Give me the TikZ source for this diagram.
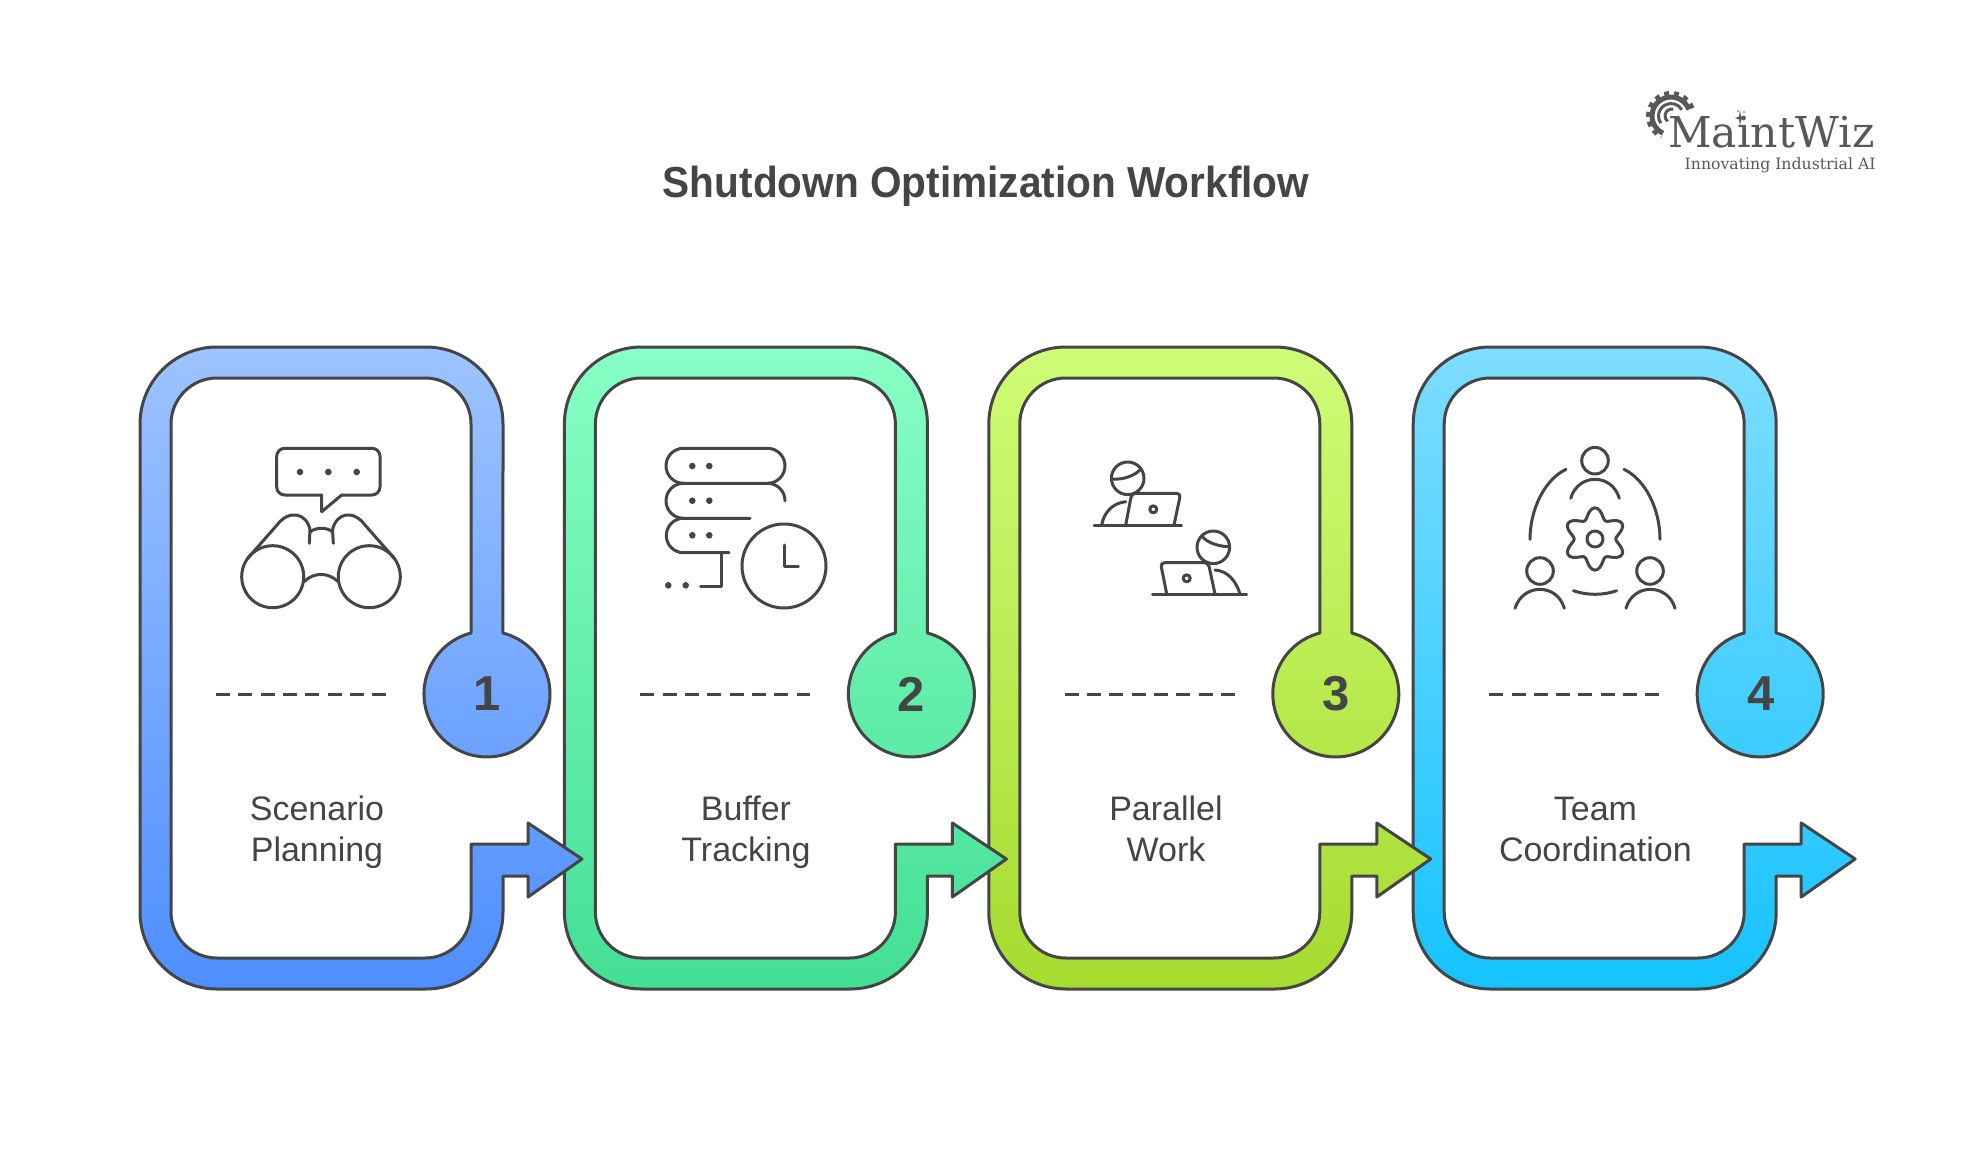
\documentclass[tikz,border=0pt]{standalone}
\usepackage{fontspec}
\setmainfont{Liberation Sans}
\newfontfamily\logofont{DejaVu Serif}
\newfontfamily\titlefont[FakeStretch=0.935]{Liberation Sans}
\definecolor{ink}{HTML}{454545}
\definecolor{logoink}{HTML}{585858}
\definecolor{blueA}{HTML}{9EC4FF}\definecolor{blueB}{HTML}{4E8EFF}
\definecolor{greenA}{HTML}{88FFC6}\definecolor{greenB}{HTML}{43DF95}
\definecolor{limeA}{HTML}{CFFC76}\definecolor{limeB}{HTML}{A6DB2F}
\definecolor{cyanA}{HTML}{7EDDFF}\definecolor{cyanB}{HTML}{15C3FF}
\tikzset{
  ribbon/.style={draw=ink,line width=3pt,line join=round},
  iconline/.style={draw=ink,line width=3pt,line cap=round,line join=round},
  icondot/.style={fill=ink,draw=none},
  divider/.style={draw=ink,line width=3pt,dash pattern=on 14pt off 8.3pt},
  label/.style={text=ink,anchor=base,inner sep=0pt,font=\fontsize{34}{34}\selectfont},
  numeral/.style={text=ink,anchor=center,inner sep=0pt,font=\fontsize{49}{49}\selectfont\bfseries},
  titletext/.style={text=ink,anchor=base,inner sep=0pt,font=\fontsize{43.4}{43.4}\selectfont\titlefont\bfseries},
  logomain/.style={text=logoink,anchor=base west,inner sep=0pt,font=\fontsize{42.6}{42.6}\selectfont\logofont},
  logotag/.style={text=logoink,anchor=base west,inner sep=0pt,font=\fontsize{15.7}{15.7}\selectfont\logofont},
}
\newcommand{\ribbonpath}[3]{%
  \begin{scope}[xshift=#1*424.4pt]
  \path[ribbon,top color=#2,bottom color=#3]
    (582,859) -- (528,823) -- (528,844) -- (471,844) -- (471,912)
    arc[start angle=0,end angle=90,radius=46] -- (217,958)
    arc[start angle=90,end angle=180,radius=46] -- (171,424)
    arc[start angle=180,end angle=270,radius=46] -- (425,378)
    arc[start angle=270,end angle=360,radius=46] -- (471,633)
    arc[start angle=255.3,end angle=-75.3,radius=63] -- (503,424)
    arc[start angle=0,end angle=-90,radius=77] -- (217,347)
    arc[start angle=-90,end angle=-180,radius=77] -- (140,912)
    arc[start angle=180,end angle=90,radius=77] -- (426,989)
    arc[start angle=90,end angle=0,radius=77] -- (503,876) -- (528,876) -- (528,897) -- cycle;
  \draw[divider] (216,694) -- (386,694);
  \end{scope}}
\begin{document}
\begin{tikzpicture}[x=1pt,y=1pt,yscale=-1]
\useasboundingbox (0,0) rectangle (1970,1166);
\fill[white] (0,0) rectangle (1970,1166);
% ribbons, right to left so each arrow lies over the next ribbon
\ribbonpath{3}{cyanA}{cyanB}
\ribbonpath{2}{limeA}{limeB}
\ribbonpath{1}{greenA}{greenB}
\ribbonpath{0}{blueA}{blueB}
% numerals
\node[numeral] (n1) at (487,694) {1};
\node[numeral] (n2) at (911.4,694) {2};
\node[numeral] (n3) at (1335.8,694) {3};
\node[numeral] (n4) at (1761,694) {4};
% labels
\node[label] (l1a) at (317,820) {Scenario};
\node[label] (l1b) at (317,861) {Planning};
\node[label] (l2a) at (746,820) {Buffer};
\node[label] (l2b) at (746,861) {Tracking};
\node[label] (l3a) at (1166,820) {Parallel};
\node[label] (l3b) at (1166,861) {Work};
\node[label] (l4a) at (1595.4,820) {Team};
\node[label] (l4b) at (1595.4,861) {Coordination};
% title
\node[titletext] (title) at (986,198) {Shutdown Optimization Workflow};
% icon 1: binoculars and speech bubble
\draw[iconline,rounded corners=8pt] (321.7,495) -- (276.7,495) -- (276.7,448.3) -- (380,448.3) -- (380,495) -- (341.7,495);
\draw[iconline] (341.7,495) -- (321.7,511.7) -- (321.7,495);
\foreach \x in {300,328.3,356.7}{\fill[icondot] (\x,472) circle[radius=3.3];}
\draw[iconline] (272.7,576.7) circle[radius=31];
\draw[iconline] (369.3,576.7) circle[radius=31];
\draw[iconline] (304,581.7) .. controls (314,572) and (328,572) .. (338.3,581.7);
\draw[iconline] (248,558) -- (277,525) .. controls (289,509) and (307,513) .. (310,530) -- (309.3,543.3);
\draw[iconline] (310,532) .. controls (316,527) and (327,527) .. (332.5,532);
\draw[iconline] (394,558) -- (365,525) .. controls (353,509) and (336,513) .. (332.5,530) -- (333.3,543.3);
% icon 2: stack and clock
\draw[iconline] (683.5,448.3) -- (767.5,448.3) arc[start angle=-90,end angle=90,radius=17.5] -- (683.5,483.3) arc[start angle=90,end angle=270,radius=17.5];
\draw[iconline] (683.5,483.3) arc[start angle=-90,end angle=-270,radius=17.5] -- (750,518.3);
\draw[iconline] (767.5,483.3) arc[start angle=-90,end angle=0,radius=17.5];
\draw[iconline] (683.5,518.3) arc[start angle=-90,end angle=-270,radius=17.2] -- (729,552.7);
\draw[iconline] (721.7,552.7) -- (721.7,586.7) -- (700.7,586.7);
\foreach \y in {466,500.7,535.3}{\fill[icondot] (692.3,\y) circle[radius=3.3];\fill[icondot] (709.3,\y) circle[radius=3.3];}
\fill[icondot] (668.3,585.3) circle[radius=3.3];
\fill[icondot] (685.7,585.3) circle[radius=3.3];
\draw[iconline] (784,566) circle[radius=42];
\draw[iconline] (784,545) -- (784,566) -- (798.3,566);
% icon 3: two people at laptops
\draw[iconline] (1127.7,478.3) circle[radius=16.3];
\draw[iconline] (1113,479) .. controls (1122,480) and (1134,476) .. (1140,470);
\draw[iconline] (1094,525) -- (1181.7,525);
\draw[iconline,rounded corners=4pt] (1125.7,525) -- (1131.7,493.3) -- (1180.7,493.3) -- (1174,525);
\draw[iconline] (1153.3,509.3) circle[radius=3.5];
\draw[iconline] (1101.7,525) .. controls (1104,512) and (1113,503) .. (1125.7,501.7);
\draw[iconline] (1213.3,547.3) circle[radius=16.3];
\draw[iconline] (1202.3,536.7) .. controls (1208,543) and (1218,546) .. (1227.7,546.7);
\draw[iconline] (1152.7,594) -- (1246.7,594);
\draw[iconline,rounded corners=4pt] (1166.7,594) -- (1160.5,562.7) -- (1208.3,562.7) -- (1215,594);
\draw[iconline] (1186.7,578.3) circle[radius=3.5];
\draw[iconline] (1240,594) .. controls (1236,581) and (1228,571) .. (1215,570);
% icon 4: team and gear
\draw[iconline] (1595,460.7) circle[radius=13.3];
\draw[iconline] (1570.7,498.3) .. controls (1578,473) and (1612,473) .. (1619.3,498.3);
\draw[iconline] (1540,571) circle[radius=13.3];
\draw[iconline] (1515,608.3) .. controls (1523,583) and (1557,583) .. (1564.3,608.3);
\draw[iconline] (1650,571) circle[radius=13.3];
\draw[iconline] (1626,608.3) .. controls (1633,583) and (1668,583) .. (1675,608.3);
\draw[iconline] (1595,539) circle[radius=8];
\draw[iconline] plot[smooth cycle,samples=72,domain=0:355] ({1595+(26+5.2*cos(6*(\x-90)))*cos(\x)},{539+(26+5.2*cos(6*(\x-90)))*sin(\x)});
\draw[iconline] (1566,469.3) .. controls (1544,480) and (1530,510) .. (1530,539.3);
\draw[iconline] (1624,469.3) .. controls (1646,480) and (1660,510) .. (1660,539.3);
\draw[iconline] (1573.3,590.7) .. controls (1587,595.5) and (1603,595.5) .. (1616.7,590.7);
% logo
\draw[logoink,line width=5pt] (1671,116) ++(-20:19) arc[start angle=-20,end angle=-245,radius=19];
\draw[logoink,line width=4pt,dash pattern=on 5pt off 5pt] (1671,116) ++(-20:23) arc[start angle=-20,end angle=-245,radius=23];
\draw[logoink,line width=3pt] (1671,116) ++(-30:12.5) arc[start angle=-30,end angle=-215,radius=12.5];
\draw[logoink,line width=3pt] (1672,116) ++(-80:7) arc[start angle=-80,end angle=-230,radius=7];
\fill[logoink] (1740,110) -- (1741,116.5) -- (1745,118) -- (1741,119.5) -- (1740,126) -- (1739,119.5) -- (1735,118) -- (1739,116.5) -- cycle;
\fill[logoink] (1738,111) circle[radius=.8];
\fill[logoink] (1744,112) circle[radius=.8];
\node[logomain] (logoname) at (1668,148) {MaintWiz};
\node[logotag] (logotag) at (1684.5,170) {Innovating Industrial AI};
\end{tikzpicture}
\end{document}
